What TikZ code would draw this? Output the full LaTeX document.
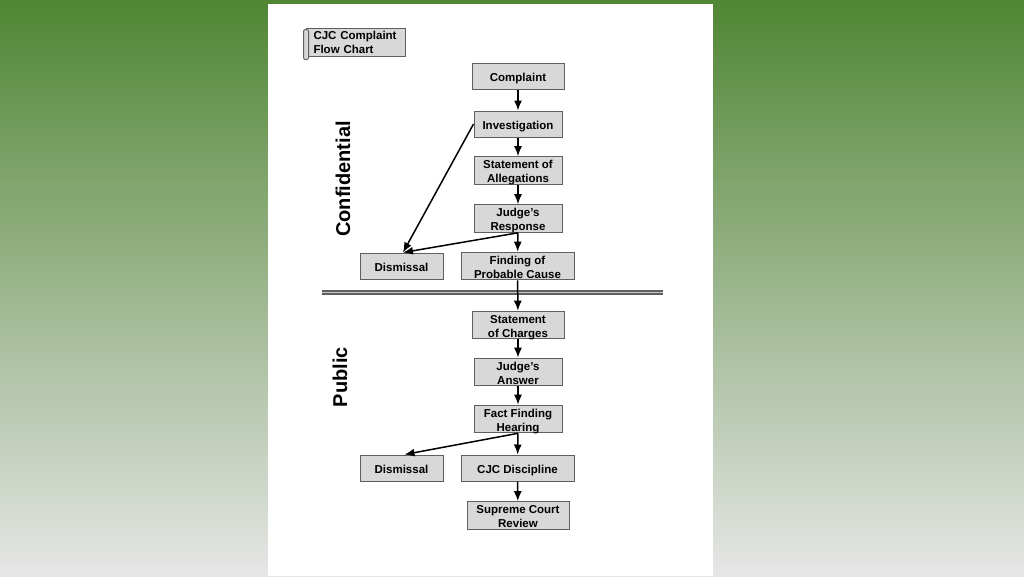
\documentclass[tikz,border=0pt]{standalone}
\usepackage{fontspec}
\setmainfont{Liberation Sans}
\usetikzlibrary{arrows.meta,positioning}

\definecolor{boxgray}{RGB}{216,216,216}
\definecolor{edgegray}{RGB}{95,95,95}
\definecolor{topgreen}{RGB}{80,134,52}
\definecolor{midgreen}{RGB}{172,190,162}
\definecolor{botgray}{RGB}{230,230,230}

% box text, set a little low as in the chart
\newcommand{\boxtext}[1]{\raisebox{-2.6pt}[\height][\depth]{\begin{tabular}{@{}c@{}}#1\end{tabular}}}

\begin{document}
\begin{tikzpicture}[x=1pt,y=-1pt,>=Latex,
  box/.style={draw=edgegray,fill=boxgray,line width=1pt,minimum width=88pt,minimum height=26pt,font=\bfseries\fontsize{11.5}{13.8}\selectfont,inner sep=0pt},
  flow/.style={->,line width=1.5pt,>={Latex[length=10pt,width=8pt]}},
  side/.style={rotate=90,font=\bfseries\fontsize{20}{24}\selectfont}]
% background and page
\useasboundingbox (0,0) rectangle (1024,576);
\shade[top color=topgreen,middle color=midgreen,bottom color=botgray] (0,0) rectangle (1024,576);
\fill[white] (268,4) rectangle (713,576);

% title scroll
\node[box,align=left,minimum width=99pt,minimum height=28pt,text width=84pt,inner xsep=7.5pt] (title) at (355.5,42) {CJC Complaint\\Flow Chart};
\draw[draw=edgegray,fill=boxgray,line width=1pt,rounded corners=2pt] ([xshift=-2pt,yshift=-2pt]title.north west) rectangle ([xshift=3pt,yshift=-3pt]title.south west);

% side labels
\node[side] (conf) at (343,179) {Confidential};
\node[side] (pub) at (340,377) {Public};

% confidential part
\node[box,minimum width=92pt] (comp) at (518,76) {\boxtext{Complaint}};
\node[box] (inv) at (518,124) {\boxtext{Investigation}};
\node[box,minimum height=27pt] (alleg) at (518,170.5) {\boxtext{Statement of\\Allegations}};
\node[box,minimum height=27pt] (resp) at (518,218.5) {\boxtext{Judge's\\Response}};
\node[box,minimum width=83pt] (dis1) at (401.5,266) {\boxtext{Dismissal}};
\node[box,minimum width=113pt] (prob) at (517.5,266) {\boxtext{Finding of\\Probable Cause}};

% separator
\draw[line width=4.4pt,edgegray] (322,292.5) -- (663,292.5);
\draw[line width=1.2pt,gray!45] (322,292.5) -- (663,292.5);

% public part
\node[box,minimum width=92pt] (charge) at (518,325) {\boxtext{Statement\\of Charges}};
\node[box] (answer) at (518,372) {\boxtext{Judge's\\Answer}};
\node[box] (hear) at (518,419) {\boxtext{Fact Finding\\Hearing}};
\node[box,minimum width=83pt] (dis2) at (401.5,468) {\boxtext{Dismissal}};
\node[box,minimum width=113pt] (disc) at (517.5,468) {\boxtext{CJC Discipline}};
\node[box,minimum width=102pt,minimum height=27pt] (sup) at (518,515.5) {\boxtext{Supreme Court\\Review}};

% connectors
\draw[flow] (comp) -- (inv);
\draw[flow] (inv) -- (alleg);
\draw[flow] (alleg) -- (resp);
\draw[flow] (resp) -- (prob);
\draw[flow] (inv.west) -- ([xshift=1.5pt]dis1.north);
\draw[flow] (resp.south) -- ([xshift=1.5pt]dis1.north);
\draw[flow] (prob) -- (charge);
\draw[flow] (charge) -- (answer);
\draw[flow] (answer) -- (hear);
\draw[flow] (hear.south) -- ([xshift=3pt]dis2.north);
\draw[flow] (hear) -- (disc);
\draw[flow] (disc) -- (sup);
\end{tikzpicture}
\end{document}
